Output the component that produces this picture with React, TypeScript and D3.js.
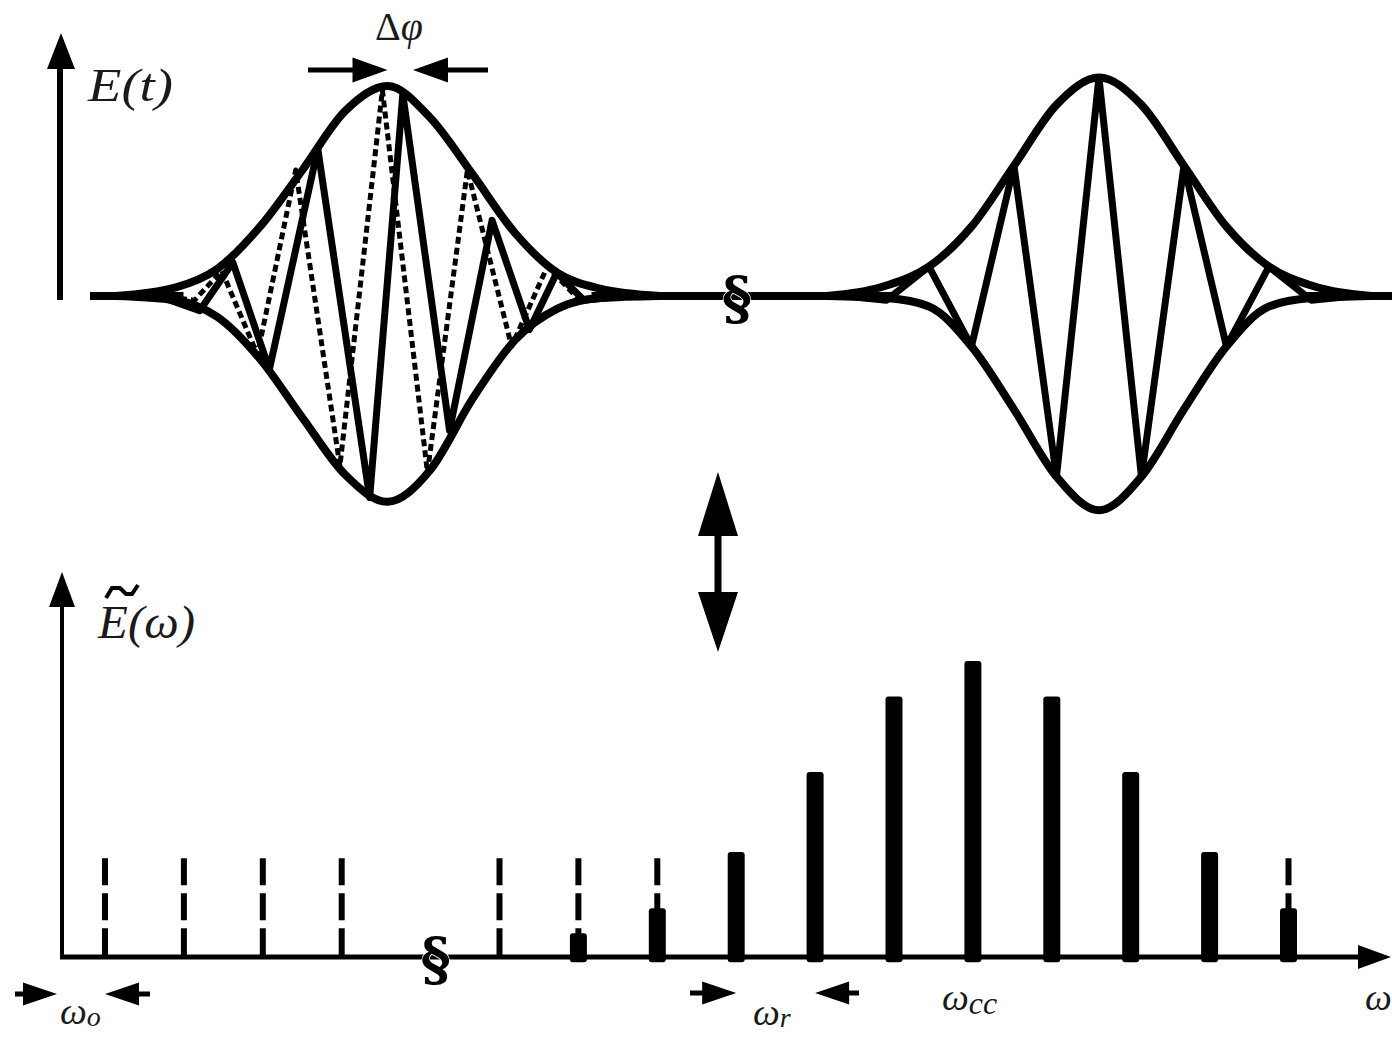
import * as d3 from "d3";

const WIDTH = 1392;
const HEIGHT = 1037;

// ---- top panel: time axis, 1 unit = one carrier period, t = 0 at the first pulse centre
const PULSE_CENTERS = [0, 8.37];
const TIME_BREAK = 4.11;

// envelope samples (relative time, amplitude)
const ENV_T = [-3.2, -2.5, -2, -1.5, -1, -0.5, 0, 0.5, 1, 1.5, 2, 2.5, 3.2];
const PULSE1_UPPER = [0, 0.04, 0.13, 0.33, 0.6, 0.88, 1.0, 0.85, 0.58, 0.3, 0.11, 0.035, 0];
const PULSE1_LOWER = [0, 0.02, 0.1, 0.3, 0.58, 0.85, 0.98, 0.83, 0.49, 0.21, 0.06, 0.01, 0];
const PULSE2_UPPER = [0, 0.05, 0.14, 0.33, 0.62, 0.91, 1.04, 0.91, 0.62, 0.33, 0.14, 0.05, 0];
const PULSE2_LOWER = [0, 0.01, 0.05, 0.24, 0.54, 0.86, 1.02, 0.86, 0.54, 0.24, 0.05, 0.01, 0];

// carrier turning points (relative time, amplitude)
const PULSE1_SOLID: [number, number][] = [
  [-2.7, 0], [-2.21, -0.07], [-1.82, 0.16], [-1.39, -0.35], [-0.82, 0.7], [-0.21, -0.96],
  [0.18, 0.96], [0.73, -0.64], [1.23, 0.36], [1.67, -0.16], [1.99, 0.11], [2.31, -0.02], [2.8, 0],
];
const PULSE1_DOTTED: [number, number][] = [
  [-2.7, 0], [-2.27, -0.02], [-1.95, 0.12], [-1.53, -0.28], [-1.08, 0.6], [-0.56, -0.81],
  [-0.06, 0.98], [0.47, -0.84], [0.94, 0.6], [1.46, -0.24], [1.88, 0.14], [2.26, -0.02], [2.8, 0],
];
const PULSE2_SOLID: [number, number][] = [
  [-3, 0], [-2.5, -0.02], [-2, 0.14], [-1.5, -0.24], [-1, 0.62], [-0.5, -0.86], [0, 1.04],
  [0.5, -0.86], [1, 0.62], [1.5, -0.24], [2, 0.14], [2.5, -0.02], [3, 0],
];
const DPHI_MARKS = [0, 0.3];

// ---- bottom panel: comb modes
const COMB_MODES = [0, 1, 2, 3, 5, 6, 7, 8, 9, 10, 11, 12, 13, 14, 15];
const COMB_AMPL = [0, 0, 0, 0, 0, 0.08, 0.165, 0.355, 0.625, 0.88, 1, 0.88, 0.625, 0.355, 0.165];
const COMB_LEVEL = 0.334;
const FREQ_ORIGIN = -0.545;
const FREQ_BREAK = 4.19;
const REP_RATE_MODES = [8, 9];
const CC_MODE = 11;

const SERIF = "'Liberation Serif', 'Times New Roman', Times, serif";
const INK = "#1a1a1a";

// triangle arrow head, tip at (x, y), pointing along (dx, dy)
const head = (x: number, y: number, dx: number, dy: number, len: number, half: number) => {
  const bx = x - dx * len;
  const by = y - dy * len;
  const px = -dy * half;
  const py = dx * half;
  return `M${x},${y}L${bx + px},${by + py}L${bx - px},${by - py}Z`;
};

export default function App() {
  const xT = d3.scaleLinear().domain([-3.5, 11.8]).range([90, 1390.5]);
  const yT = d3.scaleLinear().domain([-1, 1]).range([506, 86]);
  const xW = d3.scaleLinear().domain([0, 15]).range([105, 1288.5]);
  const yW = d3.scaleLinear().domain([0, 1]).range([957, 661]);

  const zigzag = d3
    .line<[number, number]>()
    .x((d) => xT(d[0]))
    .y((d) => yT(d[1]));
  const smooth = d3
    .line<[number, number]>()
    .x((d) => xT(d[0]))
    .y((d) => yT(d[1]))
    .curve(d3.curveMonotoneX);

  const pulses = [
    { c: PULSE_CENTERS[0], up: PULSE1_UPPER, low: PULSE1_LOWER, solid: PULSE1_SOLID, dotted: PULSE1_DOTTED },
    { c: PULSE_CENTERS[1], up: PULSE2_UPPER, low: PULSE2_LOWER, solid: PULSE2_SOLID, dotted: null },
  ];

  const y0 = yT(0);
  const baseSegments: [number, number][] = [
    [-3.5, PULSE_CENTERS[0] - 2.4],
    [PULSE_CENTERS[0] + 2.4, PULSE_CENTERS[1] - 2.4],
    [PULSE_CENTERS[1] + 2.4, 11.85],
  ];

  const axisY = yW(0);
  const originX = xW(FREQ_ORIGIN);

  return (
    <svg
      width={WIDTH}
      height={HEIGHT}
      style={{ position: "absolute", left: 0, top: 0, background: "#fff" }}
    >
      <rect width={WIDTH} height={HEIGHT} fill="#fff" />

      {/* ---------- top panel ---------- */}
      <line x1={60} x2={60} y1={300} y2={60} stroke="#000" strokeWidth={6} />
      <path d={head(61, 33, 0, -1, 36, 14)} fill="#000" />
      <text x={88} y={101} fill={INK} fontFamily={SERIF} fontStyle="italic" fontSize={46} textLength={85} lengthAdjust="spacingAndGlyphs">
        E(t)
      </text>

      {baseSegments.map(([a, b], i) => (
        <line key={i} x1={xT(a)} x2={xT(b)} y1={y0} y2={y0} stroke="#000" strokeWidth={8} />
      ))}

      {pulses.map((p, i) => (
        <g key={i} fill="none" stroke="#000" strokeLinejoin="round">
          {p.dotted && (
            <path
              d={zigzag(p.dotted.map(([t, a]) => [p.c + t, a] as [number, number])) || ""}
              strokeWidth={5}
              strokeDasharray="7 4"
            />
          )}
          <path
            d={zigzag(p.solid.map(([t, a]) => [p.c + t, a] as [number, number])) || ""}
            strokeWidth={7}
          />
          <path
            d={smooth(ENV_T.map((t, j) => [p.c + t, p.up[j]] as [number, number])) || ""}
            strokeWidth={8}
          />
          <path
            d={smooth(ENV_T.map((t, j) => [p.c + t, -p.low[j]] as [number, number])) || ""}
            strokeWidth={8}
          />
        </g>
      ))}

      {/* delta phi arrows */}
      <line x1={308} x2={xT(DPHI_MARKS[0]) - 20} y1={70} y2={70} stroke="#000" strokeWidth={5} />
      <path d={head(xT(DPHI_MARKS[0]), 70, 1, 0, 35, 12.5)} fill="#000" />
      <line x1={xT(DPHI_MARKS[1]) + 20} x2={488} y1={70} y2={70} stroke="#000" strokeWidth={5} />
      <path d={head(xT(DPHI_MARKS[1]), 70, -1, 0, 35, 12.5)} fill="#000" />
      <text x={375} y={40} fill={INK} fontFamily={SERIF} fontSize={40}>
        <tspan>Δ</tspan>
        <tspan fontStyle="italic">φ</tspan>
      </text>

      {/* time axis break */}
      <text
        x={xT(TIME_BREAK)}
        y={y0 + 22}
        textAnchor="middle"
        fontFamily="'DejaVu Serif', serif"
        fontWeight="bold"
        fontSize={58}
        stroke="#fff"
        strokeWidth={1.5}
        paintOrder="stroke"
      >
        §
      </text>

      {/* Fourier double arrow */}
      <line x1={718} x2={718} y1={520} y2={610} stroke="#000" strokeWidth={7} />
      <path d={head(718, 472, 0, -1, 64, 20)} fill="#000" />
      <path d={head(718, 652, 0, 1, 60, 20)} fill="#000" />

      {/* ---------- bottom panel ---------- */}
      <line x1={originX} x2={originX} y1={axisY + 2} y2={600} stroke="#000" strokeWidth={4} />
      <path d={head(originX, 572, 0, -1, 35, 13)} fill="#000" />
      <line x1={originX - 2} x2={1365} y1={axisY} y2={axisY} stroke="#000" strokeWidth={5} />
      <path d={head(1391, axisY, 1, 0, 33, 12)} fill="#000" />

      <text x={98} y={638} fill={INK} fontFamily={SERIF} fontStyle="italic" fontSize={46} textLength={97} lengthAdjust="spacingAndGlyphs">
        E(ω)
      </text>
      <path d="M106,598 L112,588 L120,588 L126,594 L132,594 L138,585" fill="none" stroke="#000" strokeWidth={4} />

      {COMB_MODES.map((k, i) => (
        <g key={k}>
          <line
            x1={xW(k)}
            x2={xW(k)}
            y1={yW(COMB_LEVEL)}
            y2={axisY}
            stroke="#000"
            strokeWidth={6}
            strokeDasharray="27 8"
          />
          {COMB_AMPL[i] > 0 && (
            <rect
              x={xW(k) - 8.5}
              y={yW(COMB_AMPL[i])}
              width={17}
              height={yW(-0.018) - yW(COMB_AMPL[i])}
              rx={3}
              fill="#000"
            />
          )}
        </g>
      ))}

      {/* frequency axis break */}
      <text
        x={xW(FREQ_BREAK)}
        y={axisY + 22}
        textAnchor="middle"
        fontFamily="'DejaVu Serif', serif"
        fontWeight="bold"
        fontSize={58}
        stroke="#fff"
        strokeWidth={1.5}
        paintOrder="stroke"
      >
        §
      </text>

      {/* omega_0 arrows */}
      <line x1={15} x2={originX - 20} y1={994} y2={994} stroke="#000" strokeWidth={5} />
      <path d={head(originX - 5, 994, 1, 0, 34, 11.5)} fill="#000" />
      <line x1={xW(0) + 20} x2={150} y1={994} y2={994} stroke="#000" strokeWidth={5} />
      <path d={head(xW(0), 994, -1, 0, 34, 11.5)} fill="#000" />
      <text x={60} y={1024} fill={INK} fontFamily={SERIF} fontStyle="italic" fontSize={38}>
        ω<tspan fontSize={28} dy={2}>o</tspan>
      </text>

      {/* omega_r arrows */}
      <line x1={690} x2={xW(REP_RATE_MODES[0]) - 20} y1={993} y2={993} stroke="#000" strokeWidth={5} />
      <path d={head(xW(REP_RATE_MODES[0]), 993, 1, 0, 34, 11.5)} fill="#000" />
      <line x1={xW(REP_RATE_MODES[1]) + 20} x2={859} y1={993} y2={993} stroke="#000" strokeWidth={5} />
      <path d={head(xW(REP_RATE_MODES[1]), 993, -1, 0, 34, 11.5)} fill="#000" />
      <text x={753} y={1025} fill={INK} fontFamily={SERIF} fontStyle="italic" fontSize={38}>
        ω<tspan fontSize={28} dy={2}>r</tspan>
      </text>

      <text x={xW(CC_MODE) - 31} y={1010} fill={INK} fontFamily={SERIF} fontStyle="italic" fontSize={38}>
        ω<tspan fontSize={32} dy={4}>cc</tspan>
      </text>

      <text x={1365} y={1010} fill={INK} fontFamily={SERIF} fontStyle="italic" fontSize={38}>
        ω
      </text>
    </svg>
  );
}
